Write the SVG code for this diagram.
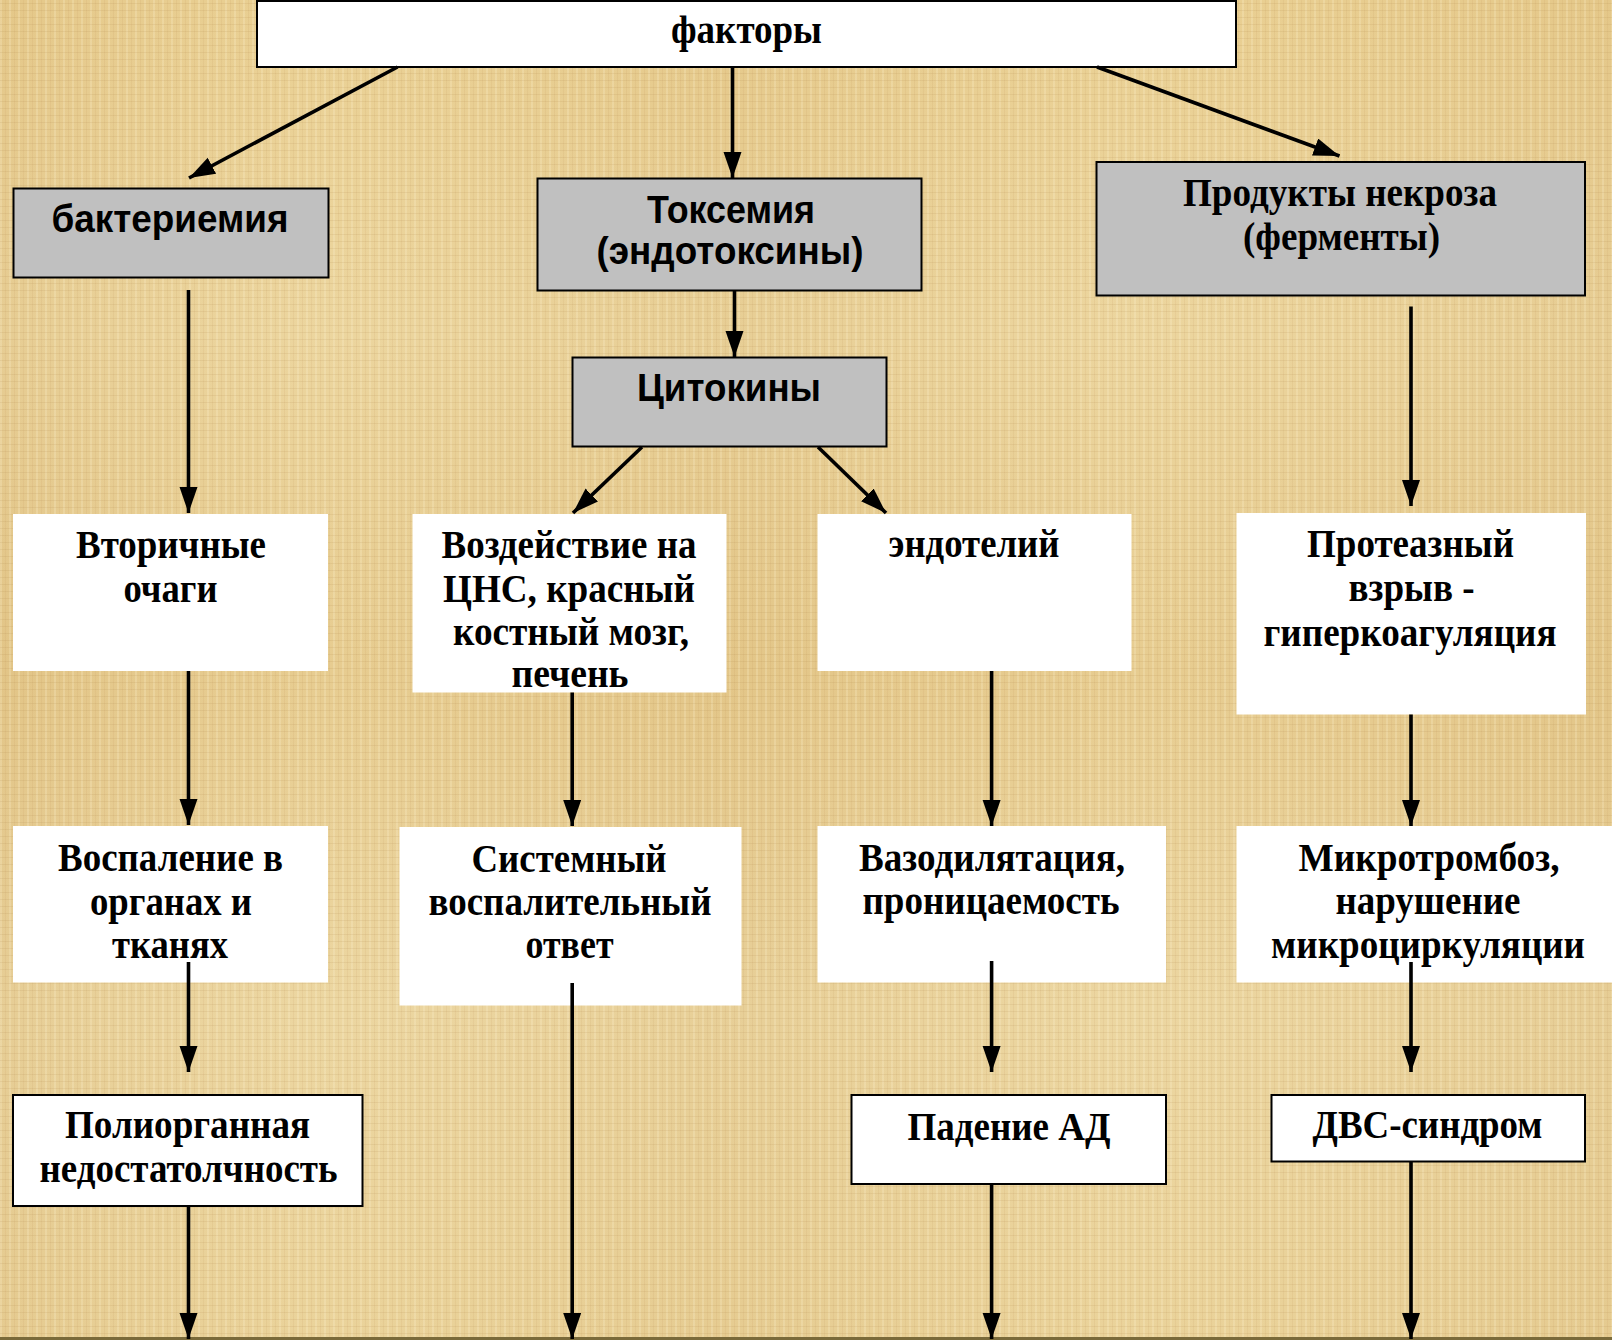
<svg xmlns="http://www.w3.org/2000/svg" width="1612" height="1340" viewBox="0 0 1612 1340">
<defs>
<pattern id="weave" width="9" height="7" patternUnits="userSpaceOnUse">
<rect width="9" height="7" fill="none"/>
<rect x="0" y="0" width="2" height="7" fill="#fff4d6" opacity="0.22"/>
<rect x="5" y="0" width="1" height="7" fill="#b98f4e" opacity="0.10"/>
<rect x="0" y="3" width="9" height="1" fill="#a97f42" opacity="0.12"/>
</pattern>
<linearGradient id="bands" x1="0" y1="0" x2="0" y2="1">
<stop offset="0" stop-color="#e8cd8e"/>
<stop offset="0.25" stop-color="#ebd49c"/>
<stop offset="0.5" stop-color="#e5c98b"/>
<stop offset="0.75" stop-color="#ebd59f"/>
<stop offset="1" stop-color="#e9d197"/>
</linearGradient>
<linearGradient id="vbands" x1="0" y1="0" x2="1" y2="0">
<stop offset="0" stop-color="#d9b779" stop-opacity="0.25"/>
<stop offset="0.2" stop-color="#f2dfae" stop-opacity="0.15"/>
<stop offset="0.45" stop-color="#d9b779" stop-opacity="0.2"/>
<stop offset="0.7" stop-color="#f2dfae" stop-opacity="0.15"/>
<stop offset="1" stop-color="#d9b779" stop-opacity="0.25"/>
</linearGradient>
<marker id="ah" markerUnits="userSpaceOnUse" markerWidth="27" markerHeight="19" refX="26" refY="9" orient="auto">
<path d="M0,0 L26,9 L0,18 z" fill="#000"/>
</marker>
</defs>
<style>
.bg{fill:url(#bands)}
.gray{fill:#c0c0c0;stroke:#000;stroke-width:2}
.wb{fill:#fff;stroke:#000;stroke-width:2}
.w{fill:#fff}
.s{font-family:"Liberation Serif","Times New Roman",serif;font-weight:bold;font-size:40px;fill:#000;text-anchor:middle}
.a{font-family:"Liberation Sans",Arial,sans-serif;font-weight:bold;font-size:39px;fill:#000;text-anchor:middle}
.c{stroke:#000;stroke-width:3.6;fill:none;marker-end:url(#ah)}
</style>
<rect class="bg" x="0" y="0" width="1612" height="1340"/>
<rect x="0" y="0" width="1612" height="1340" fill="url(#vbands)"/>
<rect x="0" y="0" width="1612" height="1340" fill="url(#weave)"/>
<rect x="0" y="1337" width="1612" height="3" fill="#7a6a3a"/>

<g id="n-faktory">
<rect class="wb" x="257" y="1" width="979" height="66"/>
<text class="s" x="746.5" y="43" textLength="151" lengthAdjust="spacingAndGlyphs">факторы</text>
</g>
<g id="n-bakteriemia">
<rect class="gray" x="13.5" y="188.5" width="315" height="89"/>
<text class="a" x="170" y="232" textLength="237" lengthAdjust="spacingAndGlyphs">бактериемия</text>
</g>
<g id="n-toksemia">
<rect class="gray" x="537.5" y="178.5" width="384" height="112"/>
<text class="a" x="731" y="223" textLength="168" lengthAdjust="spacingAndGlyphs">Токсемия</text>
<text class="a" x="730" y="264" textLength="267" lengthAdjust="spacingAndGlyphs">(эндотоксины)</text>
</g>
<g id="n-citokiny">
<rect class="gray" x="572.5" y="357.5" width="314" height="89"/>
<text class="a" x="729" y="401" textLength="184" lengthAdjust="spacingAndGlyphs">Цитокины</text>
</g>
<g id="n-produkty">
<rect class="gray" x="1096.5" y="162" width="488.5" height="133.5"/>
<text class="s" x="1340" y="206" textLength="314" lengthAdjust="spacingAndGlyphs">Продукты некроза</text>
<text class="s" x="1341.5" y="250" textLength="197" lengthAdjust="spacingAndGlyphs">(ферменты)</text>
</g>
<g id="n-vtorichnye">
<rect class="w" x="13" y="514" width="315" height="157"/>
<text class="s" x="171" y="558" textLength="190" lengthAdjust="spacingAndGlyphs">Вторичные</text>
<text class="s" x="170.5" y="602" textLength="94" lengthAdjust="spacingAndGlyphs">очаги</text>
</g>
<g id="n-vozdeistvie">
<rect class="w" x="412.5" y="514" width="314" height="178.5"/>
<text class="s" x="569" y="558" textLength="255" lengthAdjust="spacingAndGlyphs">Воздействие на</text>
<text class="s" x="569" y="602" textLength="252" lengthAdjust="spacingAndGlyphs">ЦНС, красный</text>
<text class="s" x="571" y="645" textLength="236" lengthAdjust="spacingAndGlyphs">костный мозг,</text>
<text class="s" x="570" y="687" textLength="117" lengthAdjust="spacingAndGlyphs">печень</text>
</g>
<g id="n-endotelii">
<rect class="w" x="817.5" y="514" width="314" height="157"/>
<text class="s" x="974" y="557" textLength="171" lengthAdjust="spacingAndGlyphs">эндотелий</text>
</g>
<g id="n-proteaznyi">
<rect class="w" x="1236.5" y="513" width="349.5" height="201.5"/>
<text class="s" x="1410.5" y="557" textLength="207" lengthAdjust="spacingAndGlyphs">Протеазный</text>
<text class="s" x="1411.5" y="601" textLength="126" lengthAdjust="spacingAndGlyphs">взрыв -</text>
<text class="s" x="1410" y="646" textLength="293" lengthAdjust="spacingAndGlyphs">гиперкоагуляция</text>
</g>
<g id="n-vospalenie">
<rect class="w" x="13" y="826" width="315" height="156.5"/>
<text class="s" x="170.5" y="871" textLength="225" lengthAdjust="spacingAndGlyphs">Воспаление в</text>
<text class="s" x="171" y="915" textLength="162" lengthAdjust="spacingAndGlyphs">органах и</text>
<text class="s" x="170" y="958" textLength="116" lengthAdjust="spacingAndGlyphs">тканях</text>
</g>
<g id="n-sistemnyi">
<rect class="w" x="399.5" y="827" width="342" height="178.5"/>
<text class="s" x="569" y="872" textLength="195" lengthAdjust="spacingAndGlyphs">Системный</text>
<text class="s" x="570" y="915" textLength="283" lengthAdjust="spacingAndGlyphs">воспалительный</text>
<text class="s" x="569.5" y="958" textLength="88" lengthAdjust="spacingAndGlyphs">ответ</text>
</g>
<g id="n-vazodilatacia">
<rect class="w" x="817.5" y="826" width="348.5" height="156.5"/>
<text class="s" x="992" y="871" textLength="266" lengthAdjust="spacingAndGlyphs">Вазодилятация,</text>
<text class="s" x="991" y="914" textLength="257" lengthAdjust="spacingAndGlyphs">проницаемость</text>
</g>
<g id="n-mikrotromboz">
<rect class="w" x="1236.5" y="826" width="375.5" height="156.5"/>
<text class="s" x="1429" y="871" textLength="261" lengthAdjust="spacingAndGlyphs">Микротромбоз,</text>
<text class="s" x="1428" y="914" textLength="185" lengthAdjust="spacingAndGlyphs">нарушение</text>
<text class="s" x="1428" y="958" textLength="314" lengthAdjust="spacingAndGlyphs">микроциркуляции</text>
</g>
<g id="n-poliorgannaia">
<rect class="wb" x="13" y="1095" width="349.5" height="111"/>
<text class="s" x="187.5" y="1138" textLength="245" lengthAdjust="spacingAndGlyphs">Полиорганная</text>
<text class="s" x="188.5" y="1182" textLength="298" lengthAdjust="spacingAndGlyphs">недостатолчность</text>
</g>
<g id="n-padenie">
<rect class="wb" x="851.5" y="1095" width="314.5" height="89"/>
<text class="s" x="1009" y="1140" textLength="203" lengthAdjust="spacingAndGlyphs">Падение АД</text>
</g>
<g id="n-dvs">
<rect class="wb" x="1271.5" y="1095" width="313.5" height="66.5"/>
<text class="s" x="1427.5" y="1138" textLength="230" lengthAdjust="spacingAndGlyphs">ДВС-синдром</text>
</g>

<g id="connectors">
<line class="c" x1="397.5" y1="67" x2="189" y2="178"/>
<line class="c" x1="732.5" y1="67" x2="732.5" y2="178"/>
<line class="c" x1="1097" y1="67" x2="1339.5" y2="156"/>
<line class="c" x1="188.5" y1="290" x2="188.5" y2="513"/>
<line class="c" x1="734.5" y1="290.5" x2="734.5" y2="357"/>
<line class="c" x1="1411" y1="306.5" x2="1411" y2="506"/>
<line class="c" x1="642" y1="447" x2="573" y2="513"/>
<line class="c" x1="818" y1="447" x2="886" y2="513"/>
<line class="c" x1="188.5" y1="671" x2="188.5" y2="825"/>
<line class="c" x1="572.2" y1="692.5" x2="572.2" y2="826"/>
<line class="c" x1="991.6" y1="671" x2="991.6" y2="826"/>
<line class="c" x1="1411" y1="714.5" x2="1411" y2="826"/>
<line class="c" x1="188.5" y1="962" x2="188.5" y2="1072"/>
<line class="c" x1="991.6" y1="961" x2="991.6" y2="1072"/>
<line class="c" x1="1411" y1="962" x2="1411" y2="1072"/>
<line class="c" x1="188.5" y1="1206" x2="188.5" y2="1339"/>
<line class="c" x1="572.2" y1="983" x2="572.2" y2="1339"/>
<line class="c" x1="991.6" y1="1184" x2="991.6" y2="1339"/>
<line class="c" x1="1411" y1="1161.5" x2="1411" y2="1339"/>
</g>
</svg>
